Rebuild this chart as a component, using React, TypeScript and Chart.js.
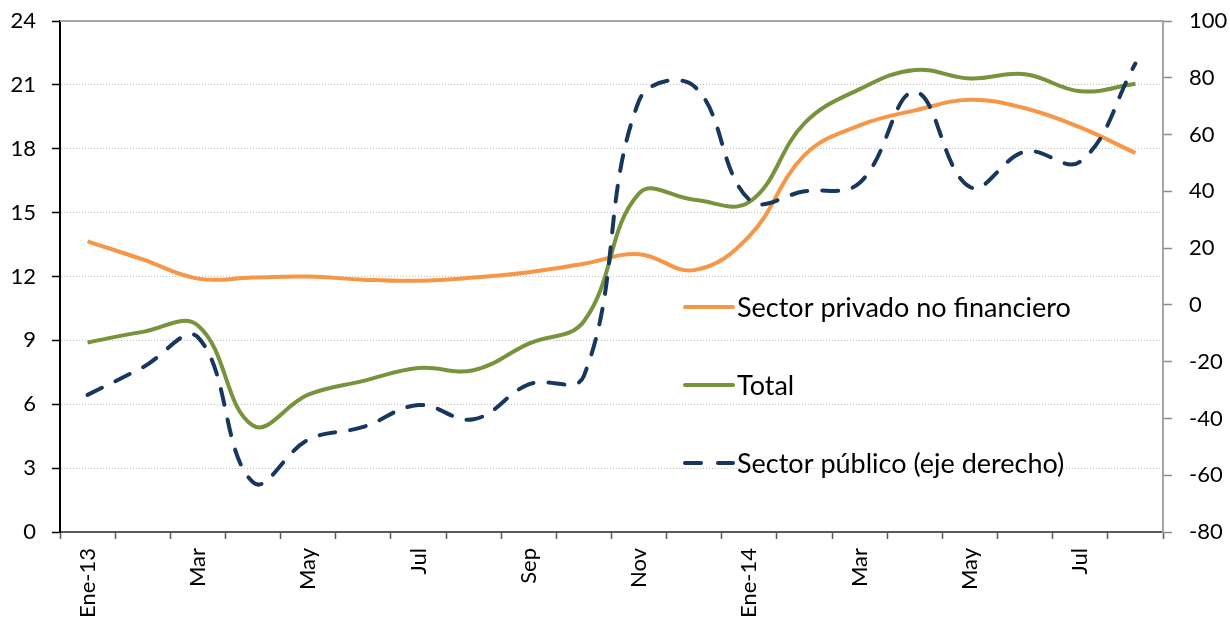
import React, { useEffect, useRef } from "react";
import { Chart, registerables } from "chart.js";

Chart.register(...registerables);

const categories = [
  "Ene-13", "Feb", "Mar", "Abr", "May", "Jun", "Jul", "Ago", "Sep", "Oct", "Nov", "Dic",
  "Ene-14", "Feb", "Mar", "Abr", "May", "Jun", "Jul", "Ago",
];

const privado = [13.65, 12.8, 11.9, 11.95, 12.0, 11.85, 11.8, 11.95, 12.2, 12.6, 13.05, 12.3, 13.9, 17.7, 19.1, 19.8, 20.3, 19.9, 19.0, 17.8];
const total = [8.9, 9.4, 9.7, 5.0, 6.45, 7.1, 7.7, 7.6, 8.85, 9.9, 15.9, 15.6, 15.5, 19.2, 20.8, 21.7, 21.3, 21.5, 20.7, 21.05];
const publico = [-31.7, -22, -11.4, -62.5, -47.5, -43, -35.3, -40.3, -28, -25, 72, 77, 37, 40, 43, 75, 41.5, 54, 50.5, 85];

const seriesLabels = ["Sector privado no financiero", "Total", "Sector público (eje derecho)"];
const leftTicks = { min: 0, max: 24, step: 3 };
const rightTicks = { min: -80, max: 100, step: 20 };

const FONT = "Lato, 'Liberation Sans', sans-serif";

const insideLegend = {
  id: "insideLegend",
  afterDraw(chart: any) {
    const ctx = chart.ctx;
    const x0 = 683;
    const ys = [307, 385, 463];
    ctx.save();
    chart.data.datasets.forEach((ds: any, i: number) => {
      ctx.strokeStyle = ds.borderColor;
      ctx.lineWidth = ds.borderWidth;
      ctx.lineCap = "round";
      ctx.setLineDash(ds.borderDash ? [16, 17] : []);
      ctx.beginPath();
      ctx.moveTo(x0 + 2, ys[i]);
      ctx.lineTo(x0 + 50, ys[i]);
      ctx.stroke();
      ctx.setLineDash([]);
      ctx.fillStyle = "#000";
      ctx.font = `27px ${FONT}`;
      ctx.textBaseline = "middle";
      ctx.textAlign = "left";
      ctx.fillText(ds.label, x0 + 54, ys[i] + 1);
    });
    ctx.restore();
  },
};

const topBorder = {
  id: "topBorder",
  beforeDatasetsDraw(chart: any) {
    const { ctx, chartArea } = chart;
    ctx.save();
    ctx.strokeStyle = "#a6a6a6";
    ctx.lineWidth = 2;
    ctx.beginPath();
    ctx.moveTo(chartArea.left, chartArea.top);
    ctx.lineTo(chartArea.right, chartArea.top);
    ctx.stroke();
    ctx.restore();
  },
};

export default function App() {
  const ref = useRef<HTMLCanvasElement | null>(null);

  useEffect(() => {
    document.body.style.margin = "0";
    if (!ref.current) return;
    const chart = new Chart(ref.current, {
      type: "line",
      data: {
        labels: categories,
        datasets: [
          {
            label: seriesLabels[0],
            data: privado,
            borderColor: "#F79646",
            borderWidth: 4,
            pointRadius: 0,
            tension: 0.4,
            yAxisID: "y",
            order: 2,
          },
          {
            label: seriesLabels[1],
            data: total,
            borderColor: "#77933C",
            borderWidth: 4,
            pointRadius: 0,
            tension: 0.4,
            yAxisID: "y",
            order: 1,
          },
          {
            label: seriesLabels[2],
            data: publico,
            borderColor: "#17375E",
            borderWidth: 4,
            borderDash: [16, 15],
            borderCapStyle: "round",
            pointRadius: 0,
            tension: 0.4,
            yAxisID: "y1",
            order: 0,
          },
        ],
      },
      options: {
        animation: false,
        responsive: true,
        maintainAspectRatio: false,
        layout: { padding: { top: 21, right: 0, left: 0, bottom: 0 } },
        plugins: { legend: { display: false }, tooltip: { enabled: false } },
        scales: {
          x: {
            offset: true,
            grid: {
              offset: true,
              drawOnChartArea: false,
              drawTicks: true,
              tickLength: 7,
              tickColor: "#595959",
              tickWidth: 1.5,
            },
            border: { color: "#595959", width: 2 },
            ticks: {
              autoSkip: false,
              maxRotation: 90,
              minRotation: 90,
              padding: 9,
              color: "#000",
              font: { family: FONT, size: 22 },
              callback: (_v: any, i: number) => (i % 2 === 0 ? categories[i] : ""),
            },
            afterFit: (s: any) => {
              s.height = 91;
              s.paddingLeft = 0;
              s.paddingRight = 0;
            },
          },
          y: {
            position: "left",
            min: leftTicks.min,
            max: leftTicks.max,
            ticks: {
              stepSize: leftTicks.step,
              color: "#000",
              padding: 16,
              font: { family: FONT, size: 22 },
            },
            grid: {
              color: "#bfbfbf",
              lineWidth: 1,
              tickColor: "#000",
              tickLength: 8,
              tickWidth: 1.5,
            },
            border: { color: "#000", width: 2, dash: [1, 2] },
            afterFit: (s: any) => {
              s.width = 60;
              s.paddingTop = 0;
              s.paddingBottom = 0;
            },
          },
          y1: {
            position: "right",
            min: rightTicks.min,
            max: rightTicks.max,
            ticks: {
              stepSize: rightTicks.step,
              color: "#000",
              padding: 17,
              font: { family: FONT, size: 22 },
            },
            grid: {
              drawOnChartArea: false,
              tickColor: "#8c8c8c",
              tickLength: 9,
              tickWidth: 1.5,
            },
            border: { color: "#a6a6a6", width: 2 },
            afterFit: (s: any) => {
              s.width = 67;
              s.paddingTop = 0;
              s.paddingBottom = 0;
            },
          },
        },
      },
      plugins: [topBorder, insideLegend],
    });
    return () => chart.destroy();
  }, []);

  return (
    <div style={{ position: "relative", width: 1230, height: 623 }}>
      <canvas ref={ref} />
    </div>
  );
}
